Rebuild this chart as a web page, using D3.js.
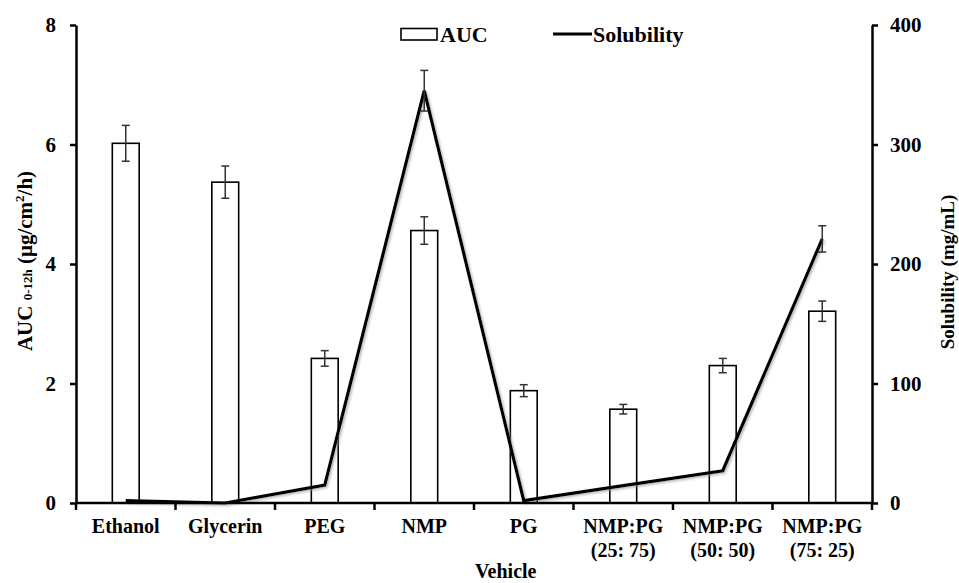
<!DOCTYPE html>
<html><head><meta charset="utf-8">
<script src="https://cdn.jsdelivr.net/npm/d3@7"></script>
<style>
body{margin:0;background:#fff;}
svg text{font-family:"Liberation Serif","Times New Roman","DejaVu Serif",serif !important;font-weight:bold;fill:#000;}
</style></head>
<body><svg id="c" width="959" height="583"></svg>
<script>
const categories = ["Ethanol","Glycerin","PEG","NMP","PG","NMP:PG\n(25: 75)","NMP:PG\n(50: 50)","NMP:PG\n(75: 25)"];
const aucValues = [6.02, 5.37, 2.42, 4.56, 1.88, 1.57, 2.30, 3.21];
const aucErrors = [0.30, 0.27, 0.13, 0.23, 0.10, 0.08, 0.12, 0.17];
const solubilityValues = [2, 0, 15, 345, 2, 14.5, 27, 221];
const solubilityErrors = [0, 0, 0, 17, 0, 0, 0, 11];
const leftTicks = [0, 2, 4, 6, 8];
const rightTicks = [0, 100, 200, 300, 400];

const FONT = "'Liberation Serif','Times New Roman','DejaVu Serif',serif";
const svg = d3.select("#c");
const L = 76, R = 872, T = 25, B = 503;
const x = d3.scaleBand().domain(categories).range([L, R]).paddingInner(0).paddingOuter(0);
const yL = d3.scaleLinear().domain([0, 8]).range([B, T]);
const yR = d3.scaleLinear().domain([0, 400]).range([B, T]);
const bw = x.bandwidth() * 0.27;
const cx = d => x(d) + x.bandwidth() / 2;

const defs = svg.append("defs");
const f = defs.append("filter").attr("id","sh").attr("x","-10%").attr("y","-10%").attr("width","120%").attr("height","120%");
f.append("feDropShadow").attr("dx",1.5).attr("dy",1.5).attr("stdDeviation",1).attr("flood-color","#888").attr("flood-opacity",0.6);

// bars
svg.append("g").selectAll("rect").data(categories).join("rect")
  .attr("x", d => cx(d) - bw/2).attr("width", bw)
  .attr("y", (d,i) => yL(aucValues[i])).attr("height", (d,i) => yL(0) - yL(aucValues[i]))
  .attr("fill", "#fff").attr("stroke", "#000").attr("stroke-width", 1.6);

// AUC error bars
const eb = svg.append("g").attr("stroke", "#333").attr("stroke-width", 1.5);
categories.forEach((c,i) => {
  const X = cx(c), y1 = yL(aucValues[i] + aucErrors[i]), y2 = yL(aucValues[i] - aucErrors[i]);
  eb.append("line").attr("x1",X).attr("x2",X).attr("y1",y1).attr("y2",y2);
  eb.append("line").attr("x1",X-4).attr("x2",X+4).attr("y1",y1).attr("y2",y1);
  eb.append("line").attr("x1",X-4).attr("x2",X+4).attr("y1",y2).attr("y2",y2);
});

// solubility line
const line = d3.line().x((d,i) => cx(categories[i])).y(d => yR(d));
svg.append("path").datum(solubilityValues).attr("d", line)
  .attr("fill","none").attr("stroke","#000").attr("stroke-width",3.2)
  .attr("stroke-linejoin","miter").attr("filter","url(#sh)");

const eb2 = svg.append("g").attr("stroke", "#333").attr("stroke-width", 1.5);
categories.forEach((c,i) => {
  if (!solubilityErrors[i]) return;
  const X = cx(c), y1 = yR(solubilityValues[i] + solubilityErrors[i]), y2 = yR(solubilityValues[i] - solubilityErrors[i]);
  eb2.append("line").attr("x1",X).attr("x2",X).attr("y1",y1).attr("y2",y2);
  eb2.append("line").attr("x1",X-4).attr("x2",X+4).attr("y1",y1).attr("y2",y1);
  eb2.append("line").attr("x1",X-4).attr("x2",X+4).attr("y1",y2).attr("y2",y2);
});

// axes
const axL = svg.append("g").attr("transform",`translate(${L},0)`)
  .call(d3.axisLeft(yL).tickValues(leftTicks).tickSize(6).tickSizeOuter(0).tickFormat(d3.format("d")));
const axR = svg.append("g").attr("transform",`translate(${R},0)`)
  .call(d3.axisRight(yR).tickValues(rightTicks).tickSize(6).tickSizeOuter(0).tickFormat(d3.format("d")));
[axL, axR].forEach(a => {
  a.attr("font-family", FONT);
  a.select(".domain").attr("stroke","#000").attr("stroke-width",2.5);
  a.selectAll(".tick line").attr("stroke","#000").attr("stroke-width",2.5);
  a.selectAll(".tick text").attr("font-size",21);
});
axL.selectAll(".tick text").attr("x",-20);
axR.selectAll(".tick text").attr("x",18);

// x axis
const tickPos = categories.map(c => x(c)).concat([R]);
const xa = svg.append("g");
xa.append("line").attr("x1",L).attr("x2",R).attr("y1",B).attr("y2",B).attr("stroke","#000").attr("stroke-width",2.5);
xa.selectAll("line.t").data(tickPos).join("line").attr("class","t")
  .attr("x1",d=>d).attr("x2",d=>d).attr("y1",B).attr("y2",B+7).attr("stroke","#000").attr("stroke-width",2.5);
categories.forEach(c => {
  const parts = c.split("\n");
  const t = svg.append("text").attr("x", cx(c)).attr("y", 533).attr("text-anchor","middle").attr("font-size",20);
  parts.forEach((p,j) => t.append("tspan").attr("x", cx(c)).attr("dy", j ? 24 : 0).text(p));
});

// titles
svg.append("text").attr("x", 475).attr("y", 578).attr("text-anchor","start").attr("font-size",20).text("Vehicle");
const lt = svg.append("text").attr("transform","translate(32,261) rotate(-90)").attr("text-anchor","middle").attr("font-size",21);
lt.append("tspan").text("AUC ");
lt.append("tspan").attr("font-size",13).text("0-12h");
lt.append("tspan").text(" (μg/cm");
lt.append("tspan").attr("font-size",13).attr("dy",-8).text("2");
lt.append("tspan").attr("dy",8).text("/h)");
svg.append("text").attr("transform","translate(954,272) rotate(-90)").attr("text-anchor","middle").attr("font-size",19).text("Solubility (mg/mL)");

// legend
svg.append("rect").attr("x",401).attr("y",28.5).attr("width",36).attr("height",11.5).attr("fill","#fff").attr("stroke","#000").attr("stroke-width",1.6);
svg.append("text").attr("x",440).attr("y",42).attr("font-size",22).text("AUC");
svg.append("line").attr("x1",553).attr("x2",592).attr("y1",34).attr("y2",34).attr("stroke","#000").attr("stroke-width",3.2);
svg.append("text").attr("x",593).attr("y",42).attr("font-size",22).text("Solubility");
svg.selectAll("text").attr("font-family",FONT).attr("font-weight","bold");
</script></body></html>
